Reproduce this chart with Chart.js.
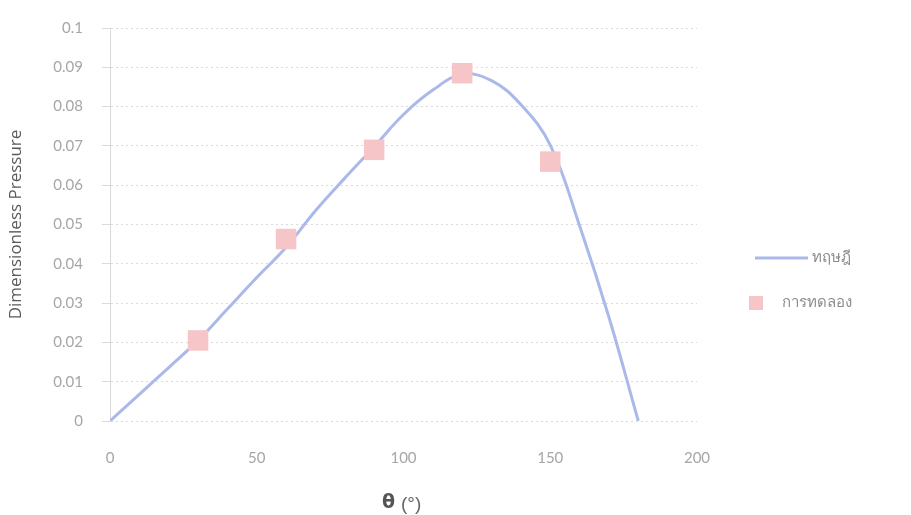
<!DOCTYPE html>
<html>
<head>
<meta charset="utf-8">
<script src="https://cdn.jsdelivr.net/npm/chart.js@4/dist/chart.umd.min.js"></script>
<style>
    body { margin: 0; background: #ffffff; }
    #box { width: 911px; height: 515px; }
</style>
</head>
<body>
<div id="box"><canvas id="myChart" width="911" height="515"></canvas></div>
<script>
// theory curve
var theta_theory = [0, 10, 20, 30, 40, 50, 60, 70, 80, 90, 100, 110, 120, 130, 140, 150, 160, 170, 180];
var p_theory = [0, 0.0068, 0.0136, 0.0205, 0.0285, 0.0365, 0.0442, 0.0535, 0.0618, 0.0698, 0.0780, 0.0842, 0.0882, 0.0866, 0.0805, 0.0702, 0.0497, 0.0264, 0];

// experimental points
var theta_exp = [30, 60, 90, 120, 150];
var p_exp = [0.0205, 0.0463, 0.069, 0.0885, 0.066];

var legend_nomes = ['ทฤษฎี', 'การทดลอง'];
var y_titulo = 'Dimensionless Pressure';

var cor_linha = '#aab9e9';
var cor_ponto = '#f6c5c8';
var cor_tick = '#a6a6a6';
var cor_grid = '#dadada';

var pontos_theory = [];
for (let c = 0; c < theta_theory.length; c++) {
    pontos_theory.push({ x: theta_theory[c], y: p_theory[c] });
}
var pontos_exp = [];
for (let c = 0; c < theta_exp.length; c++) {
    pontos_exp.push({ x: theta_exp[c], y: p_exp[c] });
}

// legend + x title drawn by hand (Excel style)
const extras = {
    id: 'extras',
    afterDraw(chart) {
        const ctx = chart.ctx;
        ctx.save();
        // legend
        ctx.strokeStyle = cor_linha;
        ctx.lineWidth = 3;
        ctx.beginPath();
        ctx.moveTo(755, 258);
        ctx.lineTo(808, 258);
        ctx.stroke();
        ctx.fillStyle = cor_ponto;
        ctx.fillRect(749, 296, 14, 14);
        ctx.fillStyle = '#8c8c8c';
        ctx.font = '15px "Noto Sans", sans-serif';
        ctx.textBaseline = 'middle';
        ctx.textAlign = 'left';
        ctx.fillText(legend_nomes[0], 812, 258);
        ctx.fillText(legend_nomes[1], 782, 303);
        // x title
        ctx.fillStyle = '#555555';
        ctx.font = 'bold 19px "DejaVu Sans", sans-serif';
        ctx.fillText('θ', 382, 503);
        ctx.font = '19px "Liberation Sans", sans-serif';
        ctx.fillStyle = '#666666';
        ctx.fillText('(°)', 401, 505);
        ctx.restore();
    }
};

const data = {
    datasets: [{
        label: legend_nomes[0],
        data: pontos_theory,
        showLine: true,
        borderColor: cor_linha,
        borderWidth: 3,
        pointRadius: 0,
        tension: 0.4,
        order: 2
    }, {
        label: legend_nomes[1],
        data: pontos_exp,
        showLine: false,
        pointStyle: 'rect',
        pointRadius: 14.5,
        pointBackgroundColor: cor_ponto,
        pointBorderColor: cor_ponto,
        pointBorderWidth: 0,
        order: 1
    }]
};

const config = {
    type: 'scatter',
    data: data,
    plugins: [extras],
    options: {
        responsive: false,
        animation: false,
        layout: { padding: { left: 0, right: 214, top: 22, bottom: 0 } },
        plugins: {
            legend: { display: false },
            tooltip: { enabled: false }
        },
        scales: {
            x: {
                type: 'linear',
                min: 0,
                max: 200,
                ticks: { stepSize: 50, color: cor_tick, padding: 28, font: { size: 15, family: 'Lato' } },
                grid: { display: false, drawTicks: false },
                border: { display: false },
                afterFit: function (s) { s.height = 94; }
            },
            y: {
                min: 0,
                max: 0.1,
                ticks: {
                    stepSize: 0.01,
                    color: cor_tick,
                    padding: 19,
                    font: { size: 15, family: 'Lato' },
                    callback: function (v) { return Number(v.toFixed(2)).toString(); }
                },
                grid: { color: cor_grid, lineWidth: 1, tickLength: 8 },
                border: { display: true, color: cor_grid, dash: [2, 3] },
                title: {
                    display: true,
                    text: y_titulo,
                    color: '#595959',
                    font: { size: 17, family: 'Open Sans' },
                    padding: { top: 6, bottom: 0 }
                },
                afterFit: function (s) { s.width = 110; }
            }
        }
    }
};

const myChart = new Chart(
    document.getElementById('myChart'),
    config
);
</script>
</body>
</html>
